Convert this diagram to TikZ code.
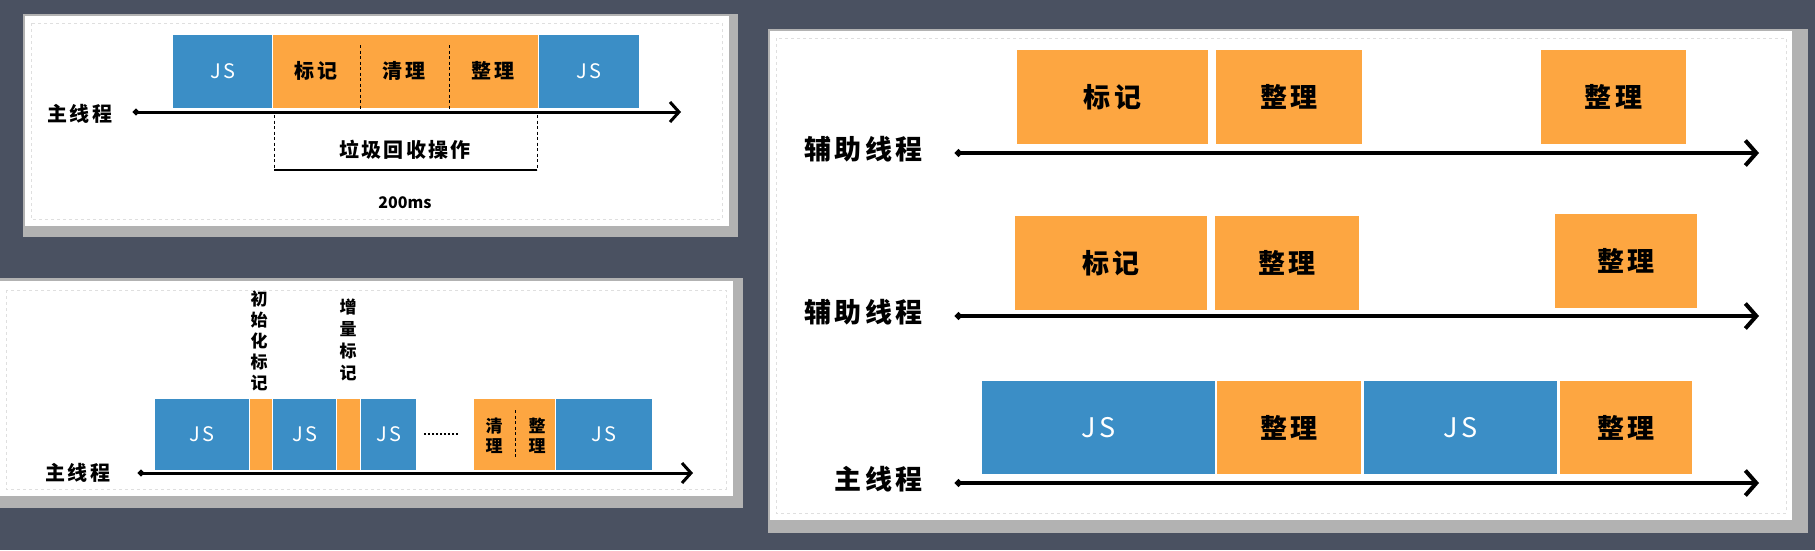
\documentclass[tikz,border=0pt]{standalone}
\usepackage{fontspec}
\setmainfont{Noto Sans CJK SC}
\newfontfamily\cjk[LetterSpace=12]{Noto Sans CJK SC}
\usetikzlibrary{positioning, arrows.meta}

\definecolor{slate}{HTML}{4A5161}
\definecolor{jsblue}{HTML}{3B8EC6}
\definecolor{gcorange}{HTML}{FDA641}

\tikzset{
  box/.style={draw=white, line width=1.2pt, inner sep=0pt, anchor=north west},
  js/.style={box, fill=jsblue, text=white},
  gc/.style={box, fill=gcorange, text=black},
  small/.style={font=\cjk\bfseries\fontsize{20}{20}\selectfont},
  big/.style={font=\cjk\bfseries\fontsize{27}{27}\selectfont},
  thread/.style={line width=3pt, {Circle[length=6pt]}-{Straight Barb[length=9pt,width=20pt,line width=3pt]}},
  bigthread/.style={line width=4pt, {Circle[length=7pt]}-{Straight Barb[length=11pt,width=25pt,line width=4pt]}},
  divider/.style={line width=1pt, dash pattern=on 3pt off 2.5pt},
  paper/.style={fill=black!30},
}

\begin{document}
\begin{tikzpicture}[x=1pt, y=-1pt]
    % Background and the three sheets
    \useasboundingbox[fill=slate] (0,0) rectangle (1815,550);
    \fill[paper] (23,14) rectangle (738,237);
    \fill[white] (25,16) rectangle (729,226);
    \draw[gray!25, dashed] (31,23) rectangle (722,219);
    \fill[paper] (0,278) rectangle (743,508);
    \fill[white] (0,281) rectangle (733,496);
    \draw[gray!25, dashed] (6,290) rectangle (726,489);
    \fill[paper] (768,29) rectangle (1808,533);
    \fill[white] (770,31) rectangle (1792,520);
    \draw[gray!25, dashed] (776,38) rectangle (1786,513);

    % Full pause: main thread
    \foreach \n/\x/\w/\s/\t in {a/172/100/js/{\mdseries JS}, b/272/266/gc/{}, c/538/101/js/{\mdseries JS}} {
      \node[\s, small, minimum width=\w, minimum height=74] (pa\n) at (\x,34) {\t};
    }
    \foreach \n/\x/\t in {1/316/标记, 2/404/清理, 3/493/整理} {
      \node[small] (pat\n) at (\x,71) {\t};
    }
    \coordinate (pad1) at (360,45);
    \coordinate (pad2) at (449,45);
    \draw[divider] (pad1) -- (pad1 |- pab.south);
    \draw[divider] (pad2) -- (pad2 |- pab.south);

    \coordinate (pas) at (133,112);
    \coordinate (pae) at (681,112);
    \draw[thread] (pas) -- (pae);
    \node[small] (palab) at (80,114) {主线程};

    % Pause span
    \coordinate (pgl) at (274,170);
    \coordinate (pgr) at (537,170);
    \draw[divider] (pgl |- 0,115) -- (pgl);
    \draw[divider] (pgr |- 0,115) -- (pgr);
    \draw[line width=2.5pt] (pgl) -- (pgr);
    \node[small] (pgc) at (405,150) {垃圾回收操作};
    \node[font=\bfseries\fontsize{16}{16}\selectfont] (ptime) at (405,203) {200ms};

    % Incremental marking: main thread
    \foreach \n/\x/\w/\s/\t in {a/154/95/js/{\mdseries JS}, b/249/23/gc/{}, c/272/64/js/{\mdseries JS}, d/336/24/gc/{}, e/360/56/js/{\mdseries JS}, f/473/82/gc/{}, g/555/97/js/{\mdseries JS}} {
      \node[\s, small, minimum width=\w, minimum height=72] (pb\n) at (\x,398) {\t};
    }
    \coordinate (pbs) at (138,473);
    \coordinate (pbe) at (693,473);
    \draw[thread] (pbs) -- (pbe);
    \node[small] (pblab) at (78,473) {主线程};

    \coordinate (pbd1) at (424,434);
    \coordinate (pbd2) at (460,434);
    \draw[line width=1.3pt, dash pattern=on 1.5pt off 2.5pt] (pbd1) -- (pbd2);

    \node[font=\cjk\bfseries\fontsize{17}{21}\selectfont, align=center, anchor=south] (pbinit) at (259,395) {初\\始\\化\\标\\记};
    \node[font=\cjk\bfseries\fontsize{17}{22}\selectfont, align=center, anchor=south] (pbinc) at (348,385) {增\\量\\标\\记};
    \node[font=\cjk\bfseries\fontsize{17}{20}\selectfont, align=center] (pbclean) at (494,436) {清\\理};
    \node[font=\cjk\bfseries\fontsize{17}{20}\selectfont, align=center] (pbsort) at (537,436) {整\\理};
    \coordinate (pbdv) at (515,410);
    \draw[divider] (pbdv) -- ++(0,48);

    % Parallel / concurrent: helper threads and main thread
    \foreach \n/\x/\y/\w/\t in {a/1016/49/192/标记, b/1215/49/147/整理, c/1540/49/146/整理,
                               d/1014/215/193/标记, e/1214/215/145/整理, f/1554/213/143/整理} {
      \node[gc, big, minimum width=\w, minimum height=95] (pc\n) at (\x,\y) {\t};
    }
    \foreach \n/\x/\w/\s/\t in {g/981/234/js/{\mdseries JS}, h/1216/145/gc/整理, i/1363/194/js/{\mdseries JS}, j/1559/133/gc/整理} {
      \node[\s, big, minimum width=\w, minimum height=94] (pc\n) at (\x,380) {\t};
    }
    \foreach \r/\y/\t in {1/153/辅助线程, 2/316/辅助线程, 3/483/主线程} {
      \coordinate (pcs\r) at (955,\y);
      \coordinate (pce\r) at (1759,\y);
      \draw[bigthread] (pcs\r) -- (pce\r);
      \node[big, anchor=east] (pclab\r) at (926,\y-4) {\t};
    }
  \end{tikzpicture}
\end{document}
